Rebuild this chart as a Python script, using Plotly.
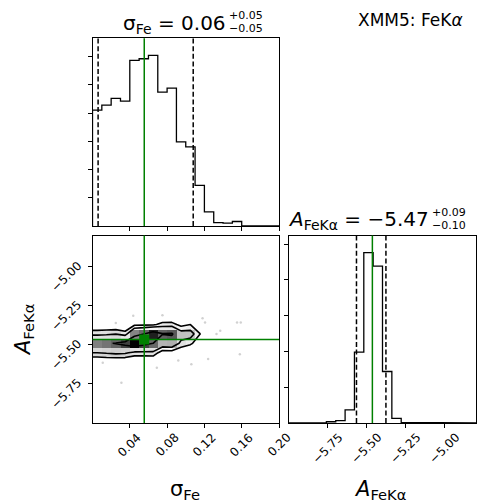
import numpy as np
import plotly.graph_objects as go

# ---- parameter ranges / binning (20 bins per axis) ----
sigma_range = [0.0, 0.2]
amp_range = [-6.0, -4.8]
n_bins = 20

# ---- 1D marginal histograms (counts per bin) ----
sigma_counts = [205, 214, 226, 221, 293, 296, 302, 237, 244, 149,
                140, 72, 25, 6, 5, 8, 0, 0, 0, 0]
amp_counts = [0, 0, 0, 2, 7, 13, 73, 396, 953, 877,
              288, 26, 4, 0, 0, 0, 0, 0, 0, 0]

# ---- 16th / 50th / 84th percentiles ----
sigma_q = [0.006, 0.057, 0.108]
amp_q = [-5.567, -5.468, -5.378]

# ---- reference (truth) values ----
sigma_truth = 0.0555
amp_truth = -5.465

# ---- joint histogram: rows are amplitude bins starting at joint_row0,
#      columns are sigma bins 0..19 ----
joint_row0 = 6
joint_counts = [
    [8, 9, 9, 9, 6, 6, 6, 2, 2, 1, 0, 0, 0, 0, 0, 0, 0, 0, 0, 0],
    [51, 54, 57, 55, 44, 44, 45, 19, 20, 12, 7, 4, 1, 0, 0, 0, 0, 0, 0, 0],
    [92, 96, 102, 112, 130, 112, 100, 71, 73, 45, 35, 18, 6, 1, 1, 2, 0, 0, 0, 0],
    [45, 47, 50, 40, 90, 100, 122, 102, 105, 64, 63, 32, 11, 3, 2, 3, 0, 0, 0, 0],
    [8, 9, 9, 9, 26, 27, 27, 38, 39, 24, 31, 16, 6, 2, 2, 2, 0, 0, 0, 0],
    [0, 0, 0, 0, 3, 3, 3, 5, 5, 3, 4, 2, 1, 0, 0, 1, 0, 0, 0, 0],
]

# ---- isolated samples outside the contours ----
sigma_pts = [0.0437, 0.1207, 0.133, 0.124, 0.011, 0.069, 0.155, 0.159,
             0.158, 0.031, 0.106, 0.137, 0.118, 0.092, 0.025, 0.075]
amp_pts = [-5.314, -5.357, -5.431, -5.59, -5.614, -5.646, -5.357, -5.357,
           -5.56, -5.742, -5.624, -5.41, -5.33, -5.60, -5.36, -5.31]

sigma_ticks = [0.04, 0.08, 0.12, 0.16, 0.20]
amp_ticks = [-5.75, -5.50, -5.25, -5.00]
sigma_count_ticks = [50, 100, 150, 200, 250, 300]
amp_count_ticks = [200, 400, 600, 800, 1000]

W, H = 479, 503
FONT = "DejaVu Sans"
GREEN = "#008000"


def px_x(p):
    return p / W


def px_y(p):
    return 1 - p / H


sig_edges = np.linspace(sigma_range[0], sigma_range[1], n_bins + 1)
amp_edges = np.linspace(amp_range[0], amp_range[1], n_bins + 1)


def step_xy(edges, counts):
    counts = np.asarray(counts, float)
    xs = np.concatenate([[edges[0]], np.repeat(edges[1:-1], 2), [edges[-1]]])
    ys = np.repeat(counts, 2)
    xs = np.concatenate([[edges[0]], xs, [edges[-1]]])
    ys = np.concatenate([[0], ys, [0]])
    return xs, ys


# full joint grid [amp, sigma]
Hj = np.zeros((n_bins, n_bins))
Hj[joint_row0:joint_row0 + len(joint_counts), :] = np.array(joint_counts, float)

# contour levels enclosing 0.5, 1, 1.5, 2 sigma of the mass
levels = 1.0 - np.exp(-0.5 * np.arange(0.5, 2.1, 0.5) ** 2)
Hflat = np.sort(Hj.flatten())[::-1]
sm = np.cumsum(Hflat)
sm /= sm[-1]
V = np.empty(len(levels))
for i, v0 in enumerate(levels):
    sel = Hflat[sm <= v0]
    V[i] = sel[-1] if len(sel) else Hflat[0]
V.sort()

# padded grid so the contours close outside the plotted range
sc = 0.5 * (sig_edges[1:] + sig_edges[:-1])
ac = 0.5 * (amp_edges[1:] + amp_edges[:-1])
H2 = np.zeros((n_bins + 4, n_bins + 4)) + Hj.min()
H2[2:-2, 2:-2] = Hj
H2[2:-2, 1] = Hj[:, 0]
H2[2:-2, -2] = Hj[:, -1]
H2[1, 2:-2] = Hj[0]
H2[-2, 2:-2] = Hj[-1]
H2[1, 1] = Hj[0, 0]
H2[1, -2] = Hj[0, -1]
H2[-2, 1] = Hj[-1, 0]
H2[-2, -2] = Hj[-1, -1]
dsx = sc[1] - sc[0]
dsa = ac[1] - ac[0]
X2 = np.concatenate([sc[0] + np.array([-2, -1]) * dsx, sc, sc[-1] + np.array([1, 2]) * dsx])
Y2 = np.concatenate([ac[0] + np.array([-2, -1]) * dsa, ac, ac[-1] + np.array([1, 2]) * dsa])

# ---- panel geometry (pixels) ----
xL = [px_x(92.5), px_x(279)]
xR = [px_x(289), px_x(476)]
yT = [px_y(226), px_y(38.3)]
yB = [px_y(423), px_y(235.5)]

fig = go.Figure()

# top-left: sigma marginal
sx, sy = step_xy(sig_edges, sigma_counts)
fig.add_trace(go.Scatter(x=sx, y=sy, mode="lines", line=dict(color="black", width=1.3),
                         xaxis="x", yaxis="y", hoverinfo="skip"))

# bottom-right: amplitude marginal
ax_, ay_ = step_xy(amp_edges, amp_counts)
fig.add_trace(go.Scatter(x=ax_, y=ay_, mode="lines", line=dict(color="black", width=1.3),
                         xaxis="x3", yaxis="y3", hoverinfo="skip"))

# bottom-left: joint distribution
fig.add_trace(go.Scatter(x=sigma_pts, y=amp_pts, mode="markers",
                         marker=dict(color="rgba(0,0,0,0.18)", size=2.5),
                         xaxis="x2", yaxis="y2", hoverinfo="skip"))
fig.add_trace(go.Contour(x=X2, y=Y2, z=H2, xaxis="x2", yaxis="y2", showscale=False,
                         contours=dict(type="constraint", operation=">=", value=0.8),
                         fillcolor="rgba(0,0,0,0.06)", line=dict(width=0, smoothing=0),
                         hoverinfo="skip"))
fig.add_trace(go.Contour(x=X2, y=Y2, z=H2, xaxis="x2", yaxis="y2", showscale=False,
                         contours=dict(type="constraint", operation=">=", value=float(V[0])),
                         fillcolor="white", line=dict(width=0, smoothing=0),
                         hoverinfo="skip"))
zden = np.where(Hj > 0, Hj, np.nan)
fig.add_trace(go.Heatmap(x=sig_edges, y=amp_edges, z=zden, xaxis="x2", yaxis="y2",
                         zmin=0, zmax=float(Hj.max()), showscale=False, hoverinfo="skip",
                         colorscale=[[0.0, "rgba(255,255,255,0)"],
                                     [0.25, "rgba(191,191,191,0.25)"],
                                     [0.5, "rgba(128,128,128,0.5)"],
                                     [0.75, "rgba(64,64,64,0.75)"],
                                     [1.0, "rgba(0,0,0,1)"]]))
for v in V:
    fig.add_trace(go.Contour(x=X2, y=Y2, z=H2, xaxis="x2", yaxis="y2", showscale=False,
                             contours=dict(type="constraint", operation=">=", value=float(v)),
                             fillcolor="rgba(0,0,0,0)",
                             line=dict(color="black", width=1.6, smoothing=0),
                             hoverinfo="skip"))

# truth marker
fig.add_trace(go.Scatter(x=[sigma_truth], y=[amp_truth], mode="markers",
                         marker=dict(symbol="square", color=GREEN, size=10),
                         xaxis="x2", yaxis="y2", hoverinfo="skip"))

shapes = []


def vline(xref, yref, xv, color, dash=None, width=1.5):
    d = dict(type="line", xref=xref, yref=yref + " domain", x0=xv, x1=xv, y0=0, y1=1,
             line=dict(color=color, width=width))
    if dash:
        d["line"]["dash"] = dash
    shapes.append(d)


def hline(xref, yref, yv, color, width=1.5):
    shapes.append(dict(type="line", xref=xref + " domain", yref=yref, x0=0, x1=1, y0=yv, y1=yv,
                       line=dict(color=color, width=width)))


DASH = "5px,2.6px"
vline("x", "y", sigma_q[0], "black", DASH)
vline("x", "y", sigma_q[2], "black", DASH)
vline("x3", "y3", amp_q[0], "black", DASH)
vline("x3", "y3", amp_q[2], "black", DASH)
vline("x", "y", sigma_truth, GREEN)
vline("x2", "y2", sigma_truth, GREEN)
hline("x2", "y2", amp_truth, GREEN)
vline("x3", "y3", amp_truth, GREEN)

axis_common = dict(showline=True, linecolor="black", linewidth=1, mirror=True,
                   ticks="outside", ticklen=4, tickwidth=1, tickcolor="black",
                   showgrid=False, zeroline=False, showticklabels=False)

fig.update_layout(
    width=W, height=H, margin=dict(l=0, r=0, t=0, b=0),
    paper_bgcolor="white", plot_bgcolor="white", showlegend=False,
    shapes=shapes,
    xaxis=dict(axis_common, domain=xL, anchor="y", range=sigma_range, tickvals=sigma_ticks),
    yaxis=dict(axis_common, domain=yT, anchor="x", range=[0, 1.1 * max(sigma_counts)],
               tickvals=sigma_count_ticks),
    xaxis2=dict(axis_common, domain=xL, anchor="y2", range=sigma_range, tickvals=sigma_ticks),
    yaxis2=dict(axis_common, domain=yB, anchor="x2", range=amp_range, tickvals=amp_ticks),
    xaxis3=dict(axis_common, domain=xR, anchor="y3", range=amp_range, tickvals=amp_ticks),
    yaxis3=dict(axis_common, domain=yB, anchor="x3", range=[0, 1.1 * max(amp_counts)],
                tickvals=amp_count_ticks),
)


def fmt(v):
    return f"{v:.2f}".replace("-", "\u2212")


def title_with_errors(label, q, x_right, y_mid):
    med = q[1]
    up = q[2] - q[1]
    lo = q[1] - q[0]
    return [
        dict(text=f"{label} = {fmt(med)}", x=px_x(x_right), y=px_y(y_mid),
             xanchor="right", yanchor="middle", font=dict(size=20)),
        dict(text=f"+{up:.2f}", x=px_x(x_right - 1), y=px_y(y_mid - 8),
             xanchor="left", yanchor="middle", font=dict(size=11)),
        dict(text=f"\u2212{lo:.2f}", x=px_x(x_right - 1), y=px_y(y_mid + 5),
             xanchor="left", yanchor="middle", font=dict(size=11)),
    ]


annotations = []
annotations += title_with_errors("σ<sub>Fe</sub>", sigma_q, 228, 24)
annotations += title_with_errors("<i>A</i><sub>FeKα</sub>", amp_q, 431, 220)

# rotated tick labels, centred under each tick
for t in sigma_ticks:
    annotations.append(dict(text=fmt(t), x=t, xref="x2", y=px_y(445), yref="paper",
                            textangle=-45, xanchor="center", yanchor="middle",
                            font=dict(size=12)))
for t in amp_ticks:
    annotations.append(dict(text=fmt(t), x=t, xref="x3", y=px_y(448), yref="paper",
                            textangle=-45, xanchor="center", yanchor="middle",
                            font=dict(size=12)))
    annotations.append(dict(text=fmt(t), x=px_x(66), xref="paper", y=t, yref="y2",
                            yshift=-10, textangle=-45, xanchor="center", yanchor="middle",
                            font=dict(size=12)))

annotations += [
    dict(text="XMM5: FeK<i>α</i>", x=px_x(410), y=px_y(20), xanchor="center",
         yanchor="middle", font=dict(size=17)),
    dict(text="σ<sub>Fe</sub>", x=px_x(185), y=px_y(490), xanchor="center",
         yanchor="middle", font=dict(size=21)),
    dict(text="<i>A</i><sub>FeKα</sub>", x=px_x(380), y=px_y(490), xanchor="center",
         yanchor="middle", font=dict(size=21)),
    dict(text="<i>A</i><sub>FeKα</sub>", x=px_x(24), y=px_y(330), xanchor="center",
         yanchor="middle", textangle=-90, font=dict(size=21)),
]
for a in annotations:
    a.setdefault("xref", "paper")
    a.setdefault("yref", "paper")
    a["showarrow"] = False
    a["font"].update(family=FONT, color="black")
fig.update_layout(annotations=annotations)

fig.write_html("out.html")
